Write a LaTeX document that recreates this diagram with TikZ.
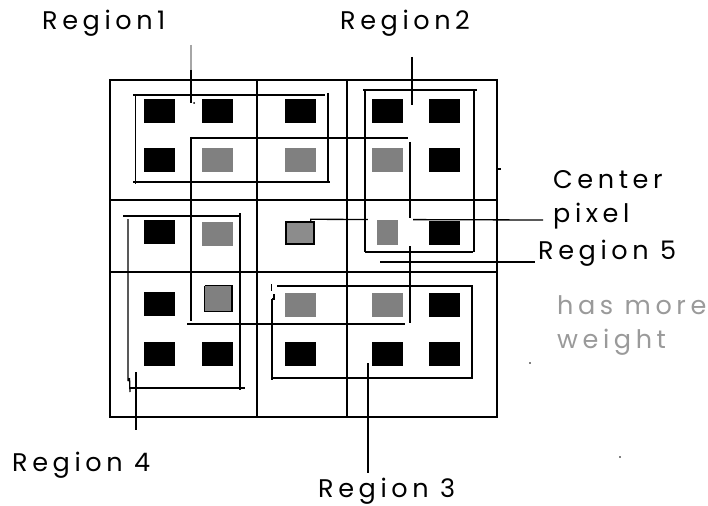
\documentclass[tikz,border=0pt]{standalone}
\usepackage{fontspec}
\newfontfamily\lab{Poppins}[LetterSpace=18]
\definecolor{pixgray}{HTML}{808080}
\definecolor{ctrgray}{HTML}{8C8C8C}
\definecolor{txtgray}{HTML}{9A9A9A}
\begin{document}
\begin{tikzpicture}[x=1pt,y=-1pt,
  ln/.style={line width=1.3pt},
  heavy/.style={line width=2.4pt},
  frameline/.style={line width=1.6pt},
  blk/.style={fill=black, minimum width=31pt, minimum height=24pt, inner sep=0pt},
  gry/.style={fill=pixgray, minimum width=31pt, minimum height=24pt, inner sep=0pt},
  lbl/.style={font=\lab\fontsize{25.5}{29}\selectfont, inner sep=0pt, anchor=base west},
  graylbl/.style={lbl, text=txtgray}]
\useasboundingbox (0,0) rectangle (708,505);
\fill[white] (0,0) rectangle (708,505);

% outer frame and 3x3 grid
\draw[frameline] (110,80) -- (110,417);
\draw[ln] (109,80) -- (497,80);
\draw[heavy] (497,79) -- (497,418);
\draw[heavy] (109,417) -- (498,417);
\draw[heavy] (257,80) -- (257,417);
\draw[ln] (347,80) -- (347,417);
\draw[ln] (110,200) -- (497,200);
\draw[ln] (110,272) -- (497,272);
\draw[ln] (497,169) -- (501,169);

% Region 1
\draw[ln] (133,95) -- (325,95);
\draw[ln] (135.5,95) -- (135.5,184);
\draw[ln] (133,182) -- (330,182);
\draw[ln] (328,93) -- (328,182);

% Region 5
\draw[heavy] (191,137) -- (191,321);
\draw[ln] (191,138) -- (408,138);
\draw[ln] (410,142) -- (410,323);
\draw[ln] (187,324) -- (405,324);

% Region 2
\draw[ln] (363,90) -- (477,90);
\draw[ln] (365,90) -- (365,252);
\draw[ln] (474,90) -- (474,252);
\draw[ln] (365,252) -- (473,252);

% Region 3
\draw[ln] (277,286) -- (473,286);
\draw[ln] (271.5,284) -- (271.5,291) (274,294) -- (274,299) -- (272,299);
\draw[ln] (272,299) -- (272,380);
\draw[ln] (472,286) -- (472,378);
\draw[ln] (272,378) -- (473,378);

% Region 4
\draw[ln] (123,216) -- (240,216);
\draw[ln] (240,213) -- (240,390);
\draw[ln] (130,388) -- (245,388);
\draw[ln] (128,219) -- (128,381) (129.5,378) -- (130,392);

% labels
\node[lbl] (r1) at (42,30) {Region1};
\node[lbl] (r2) at (340,30) {Region2};
\node[lbl] (center) at (553,188) {Center};
\node[lbl] (pix) at (553,222) {pixel};
\node[lbl] (r5) at (538,259) {Region 5};
\node[graylbl] (hm) at (557,314) {has more};
\node[graylbl] (wt) at (557,348) {weight};
\node[lbl] (r3) at (318,497) {Region 3};
\node[lbl] (r4) at (12,471) {Region 4};

% leader ends
\coordinate (l1a) at (191,45);
\coordinate (l1b) at (191,70);
\coordinate (l1c) at (191,103);
\coordinate (l2a) at (412,57);
\coordinate (l2b) at (412,105);
\coordinate (l3a) at (368,363);
\coordinate (l3b) at (368,473);
\coordinate (l4a) at (136,372);
\coordinate (l4b) at (136,430);
\coordinate (l5a) at (380,262);
\coordinate (l5b) at (535,262);
\coordinate (lca) at (543,220);

\draw[line width=1.6pt, gray!70] (l1a) -- (l1b);
\draw[line width=2.2pt] (l1b) -- (l1c);
\draw[ln] (l2a) -- (l2b);
\draw[ln] (l3a) -- (l3b);
\draw[ln] (l4a) -- (l4b);
\draw[ln] (l5a) -- (l5b);

% pixels
\foreach \c/\x in {1/159,2/217,3/300,4/387.5,5/444}{
  \node[blk] (pa\c) at (\x,111) {};
  \node[blk] (pe\c) at (\x,354) {};
}
\node[blk] (pb1) at (159,160) {};
\node[gry] (pb2) at (217,160) {};
\node[gry] (pb3) at (300,160) {};
\node[gry] (pb4) at (387.5,160) {};
\node[blk] (pb5) at (444,160) {};

\node[blk] (pc1) at (159,232) {};
\node[gry] (pc2) at (217,233.5) {};
\node[blk] (pc5) at (444,233) {};

\node[blk] (pd1) at (159,304) {};
\node[gry] (pd3) at (300,305) {};
\node[gry] (pd4) at (387.5,305) {};
\node[blk] (pd5) at (444,305) {};

% centre pixel and its leader
\node[fill=ctrgray, draw=black, line width=1.4pt, minimum width=28pt, minimum height=22pt, inner sep=0pt] (ctr) at (300,233) {};
\draw[ln] (ctr.north east) ++(-4,0) -- ++(0,-2) -- (lca);

% white patch round the pixel of Region 2 / Region 5
\fill[white] (368,218.3) rectangle (413,246);
\draw[ln] (365,216) -- (365,252);
\node[fill=pixgray, minimum width=21pt, minimum height=25pt, inner sep=0pt] (pc4) at (387.5,232.5) {};

% bordered pixel of Region 4
\node[fill=pixgray, minimum width=28pt, minimum height=25pt, inner sep=0pt] (pd2) at (219,298.5) {};
\draw[line width=1pt] (pd2.north west) -- (pd2.south west) -- (pd2.south east);
\draw[line width=1pt] (pd2.north west) -- (pd2.north east);
\draw[line width=2.4pt] (pd2.north east) ++(-1,0) -- ([xshift=-1pt]pd2.south east);

% stray dots
\fill (194,103) circle (1pt);
\fill (530,363) circle (0.9pt);
\fill (620,457) circle (0.9pt);
\end{tikzpicture}
\end{document}
